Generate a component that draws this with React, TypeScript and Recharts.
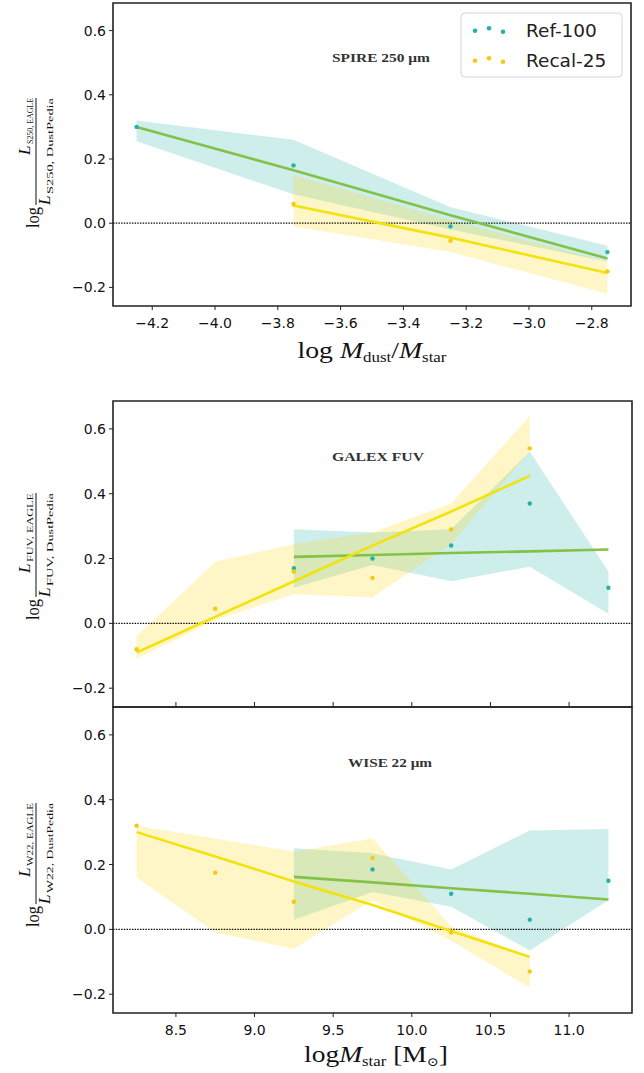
import React from 'react';
import { Area, ComposedChart, Line, ReferenceArea, ReferenceLine, XAxis, YAxis } from 'recharts';

// bin centres
const dustBins = [-4.25, -3.75, -3.25, -2.75];
const massBins = [8.25, 8.75, 9.25, 9.75, 10.25, 10.75, 11.25];

// SPIRE 250 vs log Mdust/Mstar
const spireRefPts = [0.3, 0.18, -0.01, -0.09];
const spireRecalPts = [null, 0.06, -0.055, -0.15];
const spireRefFit = [0.3, 0.165, 0.025, -0.11];
const spireRecalFit = [null, 0.055, -0.045, -0.155];
const spireRefLo = [0.255, 0.09, -0.02, -0.12];
const spireRefHi = [0.32, 0.26, 0.05, -0.07];
const spireRecalLo = [null, -0.01, -0.09, -0.22];
const spireRecalHi = [null, 0.15, 0.01, -0.12];

// GALEX FUV vs log Mstar
const fuvRefPts = [null, null, 0.17, 0.2, 0.24, 0.37, 0.11];
const fuvRecalPts = [-0.08, 0.045, 0.16, 0.14, 0.29, 0.54, null];
const fuvRefFit = [null, null, 0.205, 0.211, 0.217, 0.222, 0.228];
const fuvRecalFit = [-0.09, 0.02, 0.13, 0.24, 0.345, 0.455, null];
const fuvRefLo = [null, null, 0.11, 0.18, 0.13, 0.175, 0.03];
const fuvRefHi = [null, null, 0.29, 0.28, 0.29, 0.53, 0.16];
const fuvRecalLo = [-0.11, 0.01, 0.09, 0.08, 0.245, 0.53, null];
const fuvRecalHi = [-0.04, 0.19, 0.245, 0.28, 0.37, 0.64, null];

// WISE 22 vs log Mstar
const w22RefPts = [null, null, null, 0.185, 0.11, 0.03, 0.15];
const w22RecalPts = [0.32, 0.175, 0.085, 0.22, -0.01, -0.13, null];
const w22RefFit = [null, null, 0.162, 0.145, 0.127, 0.11, 0.092];
const w22RecalFit = [0.3, 0.225, 0.148, 0.075, -0.005, -0.085, null];
const w22RefLo = [null, null, 0.03, 0.115, 0.07, -0.065, 0.09];
const w22RefHi = [null, null, 0.25, 0.235, 0.185, 0.305, 0.31];
const w22RecalLo = [0.16, -0.01, -0.06, 0.09, -0.035, -0.18, null];
const w22RecalHi = [0.32, 0.28, 0.24, 0.28, 0.01, -0.085, null];

const yTicks = [-0.2, 0, 0.2, 0.4, 0.6];
const dustTicks = [-4.2, -4.0, -3.8, -3.6, -3.4, -3.2, -3.0, -2.8];
const massTicks = [8.5, 9.0, 9.5, 10.0, 10.5, 11.0];

const Y_DOMAIN: [number, number] = [-0.258, 0.686];
const DUST_DOMAIN: [number, number] = [-4.325, -2.675];
const MASS_DOMAIN: [number, number] = [8.1, 11.4];

const REF_DOT = '#22b2a6';
const RECAL_DOT = '#f9c80e';
const REF_LINE = '#82c246';
const RECAL_LINE = '#f2e20e';
const REF_BAND = '#20b2aa';
const RECAL_BAND = '#ffd700';

const SANS = "'DejaVu Sans', sans-serif";
const SERIF = "'Liberation Serif', 'DejaVu Serif', serif";

const fmt = (v: number) => (v < 0 ? '\u2212' : '') + Math.abs(v).toFixed(1);
const band = (lo: any, hi: any) => (lo == null ? null : [lo, hi]);

const rows = (bins: number[], s: any) =>
  bins.map((x, i) => ({
    x,
    refPt: s.refPts[i],
    recalPt: s.recalPts[i],
    refFit: s.refFit[i],
    recalFit: s.recalFit[i],
    refBand: band(s.refLo[i], s.refHi[i]),
    recalBand: band(s.recalLo[i], s.recalHi[i]),
  }));

const spireRows = rows(dustBins, {
  refPts: spireRefPts, recalPts: spireRecalPts, refFit: spireRefFit, recalFit: spireRecalFit,
  refLo: spireRefLo, refHi: spireRefHi, recalLo: spireRecalLo, recalHi: spireRecalHi,
});
const fuvRows = rows(massBins, {
  refPts: fuvRefPts, recalPts: fuvRecalPts, refFit: fuvRefFit, recalFit: fuvRecalFit,
  refLo: fuvRefLo, refHi: fuvRefHi, recalLo: fuvRecalLo, recalHi: fuvRecalHi,
});
const w22Rows = rows(massBins, {
  refPts: w22RefPts, recalPts: w22RecalPts, refFit: w22RefFit, recalFit: w22RecalFit,
  refLo: w22RefLo, refHi: w22RefHi, recalLo: w22RecalLo, recalHi: w22RecalHi,
});

// rotated  log L_a / L_b  label
const RatioLabel = ({ name, logBottom, fracTop, numW }: any) => {
  const len = logBottom - fracTop;
  return (
    <g transform={`translate(36, ${logBottom}) rotate(-90)`} fontFamily={SERIF} fill="#111">
      <text x={0} y={3} fontSize={18} textLength={21} lengthAdjust="spacingAndGlyphs">log</text>
      <line x1={23} x2={len} y1={0} y2={0} stroke="#111" strokeWidth={1} />
      <text x={len - numW} y={-6} fontSize={17} fontStyle="italic">L</text>
      <text x={len - numW + 11} y={-3} fontSize={8} textLength={numW - 11} lengthAdjust="spacingAndGlyphs">
        {name}, EAGLE
      </text>
      <text x={23} y={14} fontSize={17} fontStyle="italic">L</text>
      <text x={34} y={16.5} fontSize={8} textLength={len - 34} lengthAdjust="spacingAndGlyphs">
        {name}, DustPedia
      </text>
    </g>
  );
};

const Title = ({ x, y, w, children }: any) => (
  <text x={x} y={y} textAnchor="middle" fontFamily={SERIF} fontSize={13} fontWeight="bold" fill="#333"
    textLength={w} lengthAdjust="spacingAndGlyphs">
    {children}
  </text>
);

const LegendBox = () => (
  <g>
    <rect x={461} y={13} width={161} height={64} rx={4} fill="#fff" fillOpacity={0.8} stroke="#d6d6d6" />
    <circle cx={475} cy={30.7} r={2.3} fill={REF_DOT} />
    <circle cx={489} cy={28.3} r={2.3} fill={REF_DOT} />
    <circle cx={503} cy={31.7} r={2.3} fill={REF_DOT} />
    <text x={526} y={37} fontFamily={SANS} fontSize={18.5} fill="#222">Ref-100</text>
    <circle cx={475} cy={60.7} r={2.3} fill={RECAL_DOT} />
    <circle cx={489} cy={58.3} r={2.3} fill={RECAL_DOT} />
    <circle cx={503} cy={61.7} r={2.3} fill={RECAL_DOT} />
    <text x={526} y={67} fontFamily={SANS} fontSize={18.5} fill="#222">Recal-25</text>
  </g>
);

const series = (xDomain: [number, number]) => [
  <Area key="rb" type="linear" dataKey="refBand" stroke="none" fill={REF_BAND} fillOpacity={0.22} isAnimationActive={false} />,
  <Area key="cb" type="linear" dataKey="recalBand" stroke="none" fill={RECAL_BAND} fillOpacity={0.22} isAnimationActive={false} />,
  <ReferenceLine key="zero" y={0} stroke="#111" strokeWidth={1.3} strokeDasharray="1.5 1.2" />,
  <Line key="rf" type="linear" dataKey="refFit" stroke={REF_LINE} strokeWidth={2.6} dot={false} activeDot={false} connectNulls isAnimationActive={false} />,
  <Line key="cf" type="linear" dataKey="recalFit" stroke={RECAL_LINE} strokeWidth={2.6} dot={false} activeDot={false} connectNulls isAnimationActive={false} />,
  <Line key="rp" dataKey="refPt" stroke="none" dot={{ r: 2.2, fill: REF_DOT, stroke: 'none' }} activeDot={false} isAnimationActive={false} />,
  <Line key="cp" dataKey="recalPt" stroke="none" dot={{ r: 2.2, fill: RECAL_DOT, stroke: 'none' }} activeDot={false} isAnimationActive={false} />,
  <ReferenceArea key="frame" x1={xDomain[0]} x2={xDomain[1]} y1={Y_DOMAIN[0]} y2={Y_DOMAIN[1]}
    fill="none" stroke="#222" strokeWidth={1.6} ifOverflow="visible" />,
];

const yAxis = (
  <YAxis type="number" domain={Y_DOMAIN} ticks={yTicks} allowDataOverflow width={60} tickFormatter={fmt}
    axisLine={false} tickSize={4} tickMargin={3} tickLine={{ stroke: '#222' }}
    tick={{ fontFamily: SANS, fontSize: 14, fill: '#111' }} />
);

export default function App() {
  return (
    <div style={{ position: 'absolute', left: 0, top: 0, width: 644, height: 1073, background: '#fff' }}>
      {/* SPIRE 250 */}
      <div style={{ position: 'absolute', left: 0, top: 0 }}>
        <ComposedChart width={644} height={380} data={spireRows} margin={{ top: 3, right: 13, bottom: 44, left: 53 }}>
          <XAxis dataKey="x" type="number" domain={DUST_DOMAIN} ticks={dustTicks} allowDataOverflow
            tickFormatter={fmt} axisLine={false} tickSize={4} tickMargin={8} tickLine={{ stroke: '#222' }}
            tick={{ fontFamily: SANS, fontSize: 14, fill: '#111' }} height={30} />
          {yAxis}
          {series(DUST_DOMAIN)}
          <Title x={381} y={62} w={98}>SPIRE 250 {'\u03bc'}m</Title>
          <LegendBox />
          <RatioLabel name="S250" logBottom={228} fracTop={98} numW={57} />
          <text x={372} y={358} textAnchor="middle" fontFamily={SERIF} fontSize={23} fill="#111" textLength={149}
            lengthAdjust="spacingAndGlyphs">
            log <tspan fontStyle="italic">M</tspan>
            <tspan fontSize={14} dy={4}>dust</tspan>
            <tspan dy={-4}>/</tspan>
            <tspan fontStyle="italic">M</tspan>
            <tspan fontSize={14} dy={4}>star</tspan>
          </text>
        </ComposedChart>
      </div>

      {/* GALEX FUV */}
      <div style={{ position: 'absolute', left: 0, top: 390 }}>
        <ComposedChart width={644} height={325} data={fuvRows} margin={{ top: 11, right: 12, bottom: 8, left: 53 }}>
          <XAxis dataKey="x" type="number" domain={MASS_DOMAIN} ticks={massTicks} allowDataOverflow mirror
            tickFormatter={() => ''} axisLine={false} tickSize={5} tickLine={{ stroke: '#222' }} />
          {yAxis}
          {series(MASS_DOMAIN)}
          <Title x={378} y={71} w={92}>GALEX FUV</Title>
          <RatioLabel name="FUV" logBottom={230} fracTop={103} numW={80} />
        </ComposedChart>
      </div>

      {/* WISE 22 */}
      <div style={{ position: 'absolute', left: 0, top: 700 }}>
        <ComposedChart width={644} height={373} data={w22Rows} margin={{ top: 7, right: 12, bottom: 30, left: 53 }}>
          <XAxis dataKey="x" type="number" domain={MASS_DOMAIN} ticks={massTicks} allowDataOverflow
            tickFormatter={(v: number) => v.toFixed(1)} axisLine={false} tickSize={4} tickMargin={8}
            tickLine={{ stroke: '#222' }} tick={{ fontFamily: SANS, fontSize: 14, fill: '#111' }} height={30} />
          {yAxis}
          {series(MASS_DOMAIN)}
          <Title x={390} y={67} w={84}>WISE 22 {'\u03bc'}m</Title>
          <RatioLabel name="W22" logBottom={227} fracTop={103} numW={74} />
          <text x={376} y={362} textAnchor="middle" fontFamily={SERIF} fontSize={23} fill="#111" textLength={144}
            lengthAdjust="spacingAndGlyphs">
            log<tspan fontStyle="italic">M</tspan>
            <tspan fontSize={14} dy={4}>star</tspan>
            <tspan dy={-4}> [M</tspan>
            <tspan fontSize={12} dy={4}>{'\u2299'}</tspan>
            <tspan dy={-4}>]</tspan>
          </text>
        </ComposedChart>
      </div>
    </div>
  );
}
